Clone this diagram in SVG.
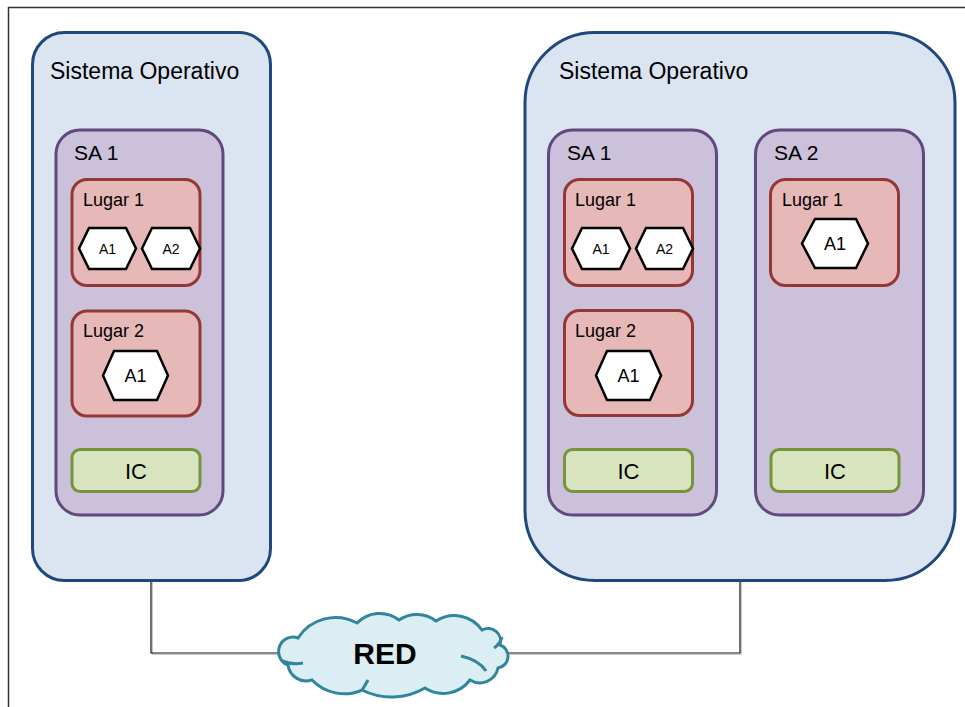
<svg xmlns="http://www.w3.org/2000/svg" width="965" height="707" viewBox="0 0 965 707">
<style>
text{font-family:"Liberation Sans",Arial,sans-serif;fill:#000}
.so{fill:#DBE5F1;stroke:#1F497D;stroke-width:3}
.sa{fill:#CCC1DA;stroke:#604A7B;stroke-width:3}
.lug{fill:#E6B9B8;stroke:#953735;stroke-width:3}
.ic{fill:#D7E4BD;stroke:#77933C;stroke-width:3}
.hex{fill:#fff;stroke:#000;stroke-width:2.5;stroke-linejoin:miter}
.t-so{font-size:23px}
.t-sa{font-size:21px}
.t-lug{font-size:18px}
.t-ic{font-size:22px;text-anchor:middle}
.t-hs{font-size:14px;text-anchor:middle}
.t-hl{font-size:18px;text-anchor:middle}
.conn{fill:none;stroke:#111;stroke-width:1.2}
.shadow{fill:none;stroke:#c8c8c8;stroke-width:1}
</style>
<rect width="965" height="707" fill="#fff"/>
<g id="frame">
<line x1="8" y1="7.5" x2="965" y2="7.5" stroke="#333" stroke-width="1.5"/>
<line x1="8.5" y1="7" x2="8.5" y2="707" stroke="#333" stroke-width="1.5"/>
</g>
<g id="connectors">
<polyline class="shadow" points="152.5,582 152.5,654.5 281,654.5"/>
<polyline class="shadow" points="505,654.5 741.5,654.5 741.5,582"/>
<polyline class="conn" points="151,581 151,653 281,653"/>
<polyline class="conn" points="505,653 740,653 740,581"/>
</g>
<g id="so-left">
<rect class="so" x="32.5" y="32.5" width="238" height="548" rx="32"/>
<text class="t-so" x="50" y="79">Sistema Operativo</text>
</g>
<g id="so-right">
<rect class="so" x="525" y="32.5" width="430" height="548" rx="70"/>
<text class="t-so" x="559" y="79">Sistema Operativo</text>
</g>
<g id="left-sa1">
<rect class="sa" x="56" y="130" width="167" height="385" rx="24"/>
<text class="t-sa" x="74" y="160">SA 1</text>
</g>
<g id="left-lugar1">
<rect class="lug" x="72" y="179.5" width="128" height="106" rx="15"/>
<text class="t-lug" x="83" y="206">Lugar 1</text>
</g>
<g id="left-l1-a1">
<polygon class="hex" points="79,248.5 89,228 126,228 136,248.5 126,269 89,269"/>
<text class="t-hs" x="107.5" y="254">A1</text>
</g>
<g id="left-l1-a2">
<polygon class="hex" points="142,248.5 152,228 190,228 200,248.5 190,269 152,269"/>
<text class="t-hs" x="171" y="254">A2</text>
</g>
<g id="left-lugar2">
<rect class="lug" x="72" y="311" width="128" height="105" rx="15"/>
<text class="t-lug" x="83" y="337">Lugar 2</text>
</g>
<g id="left-l2-a1">
<polygon class="hex" points="103,375.5 114,351 157,351 168,375.5 157,400 114,400"/>
<text class="t-hl" x="135.5" y="382">A1</text>
</g>
<g id="left-ic">
<rect class="ic" x="72" y="449.5" width="128" height="42" rx="8"/>
<text class="t-ic" x="136" y="479">IC</text>
</g>
<g id="right-sa1">
<rect class="sa" x="548.5" y="130" width="168" height="385" rx="24"/>
<text class="t-sa" x="567" y="160">SA 1</text>
</g>
<g id="right-lugar1">
<rect class="lug" x="564.5" y="179.5" width="128" height="106" rx="15"/>
<text class="t-lug" x="575" y="206">Lugar 1</text>
</g>
<g id="right-l1-a1">
<polygon class="hex" points="572,248.5 582,228 620,228 630,248.5 620,269 582,269"/>
<text class="t-hs" x="601" y="254">A1</text>
</g>
<g id="right-l1-a2">
<polygon class="hex" points="636,248.5 646,228 683,228 693,248.5 683,269 646,269"/>
<text class="t-hs" x="664.5" y="254">A2</text>
</g>
<g id="right-lugar2">
<rect class="lug" x="564.5" y="310.5" width="128" height="105" rx="15"/>
<text class="t-lug" x="575" y="337">Lugar 2</text>
</g>
<g id="right-l2-a1">
<polygon class="hex" points="596,375.5 607,351 650,351 661,375.5 650,400 607,400"/>
<text class="t-hl" x="628.5" y="382">A1</text>
</g>
<g id="right-ic1">
<rect class="ic" x="564.5" y="449.5" width="128" height="42" rx="8"/>
<text class="t-ic" x="628.5" y="479">IC</text>
</g>
<g id="right-sa2">
<rect class="sa" x="755.5" y="130" width="168" height="385" rx="24"/>
<text class="t-sa" x="774" y="160">SA 2</text>
</g>
<g id="sa2-lugar1">
<rect class="lug" x="770.5" y="179.5" width="128" height="106" rx="15"/>
<text class="t-lug" x="782" y="206">Lugar 1</text>
</g>
<g id="sa2-l1-a1">
<polygon class="hex" points="802,243.5 815,219 856,219 868,243.5 856,268 815,268"/>
<text class="t-hl" x="835" y="250">A1</text>
</g>
<g id="right-ic2">
<rect class="ic" x="771" y="449.5" width="128" height="42" rx="8"/>
<text class="t-ic" x="835" y="479">IC</text>
</g>
<g id="red">
<path d="M298 638 A44.6 44.6 0 0 1 357 623 A31.6 31.6 0 0 1 399 620 A31.5 31.5 0 0 1 436 621 A33.7 33.7 0 0 1 482 630 A12.6 12.6 0 0 1 500 645 A11.9 11.9 0 0 1 498 668 A18.6 18.6 0 0 1 470 680 A33.5 33.5 0 0 1 425 688 A66 66 0 0 1 362 690 A44.6 44.6 0 0 1 312 680 A18.4 18.4 0 0 1 288 665 A14.3 14.3 0 0 1 298 638 Z" fill="#DAEEF3" stroke="#31859C" stroke-width="3"/>
<path d="M282 661 Q293 665 303 663 M461 656 Q479 660 486 671 M494 648 Q500 644 502 637 M362 690 Q366 684 368 680" fill="none" stroke="#31859C" stroke-width="3"/>
<text x="385" y="664" font-size="30" font-weight="bold" text-anchor="middle">RED</text>
</g>
</svg>
